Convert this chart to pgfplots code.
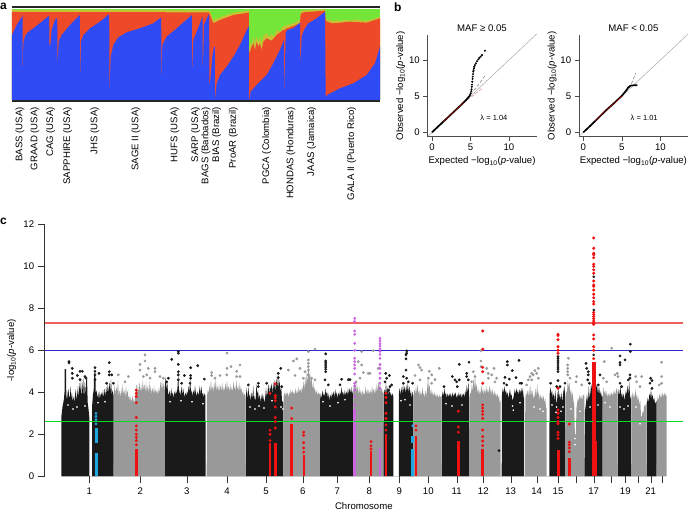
\documentclass[border=0pt]{standalone}
\usepackage{fontspec}
\setmainfont{Liberation Sans}
\usepackage{pgfplots}
\pgfplotsset{compat=1.18}
\definecolor{ablue}{HTML}{2F4BF5}
\definecolor{ared}{HTML}{EE4A2A}
\definecolor{agreen}{HTML}{74E63A}
\definecolor{ayellow}{HTML}{C8C234}
\definecolor{mblack}{HTML}{1A1A1A}
\definecolor{mgray}{HTML}{999999}
\definecolor{mred}{HTML}{EE1111}
\definecolor{mcyan}{HTML}{1FA8E0}
\definecolor{mpurple}{HTML}{CC66E0}
\definecolor{lgreen}{HTML}{00E020}
\definecolor{lred}{HTML}{F06060}
\definecolor{lblue}{HTML}{2828C8}
\pgfplotsset{
  every axis/.append style={
    scale only axis, anchor=south west, clip=false,
    /pgf/number format/assume math mode=true,
    tick label style={font=\fontsize{9.6}{11}\selectfont},
    label style={font=\fontsize{9.6}{11}\selectfont},
    title style={font=\fontsize{9.6}{11}\selectfont},
  },
}
\begin{document}
\begin{tikzpicture}
\path[use as bounding box] (0,0) rectangle (689pt,510pt);
\node[font=\bfseries\fontsize{12}{12}\selectfont,anchor=west,inner sep=0] at (0pt,504pt) {a};
\node[font=\bfseries\fontsize{12}{12}\selectfont,anchor=west,inner sep=0] at (394pt,503pt) {b};
\node[font=\bfseries\fontsize{12}{12}\selectfont,anchor=west,inner sep=0] at (0pt,289pt) {c};

% a: ancestry proportions
\begin{axis}[
  at={(12pt,410pt)}, width=368pt, height=90pt,
  xmin=36, xmax=1140, ymin=0, ymax=270,
  hide y axis, axis x line=bottom, x axis line style={draw=none},
  major tick length=0pt,
  xtick={60,105,152,203,285,408,525,587,618,650,700,800,873,935,1055},
  xticklabels={BASS (USA),GRAAD (USA),CAG (USA),SAPPHIRE (USA),JHS (USA),SAGE II (USA),HUFS (USA),SARP (USA),BAGS (Barbados),BIAS (Brazil),ProAR (Brazil),PGCA (Colombia),HONDAS (Honduras),JAAS (Jamaica),GALA II (Puerto Rico)},
  xticklabel style={rotate=90,anchor=east,inner sep=0pt,xshift=-7pt},
]
\addplot[fill=agreen,draw=none] coordinates {(36,272)(1140,272)} \closedcycle;
\addplot[fill=ayellow,draw=none] coordinates {(36,270)(628,269)(630,266)(640,240)(660,248)(700,262)(745,268)(746.5,268)(747,150)(752,175)(756,160)(760,190)(764,170)(770,190)(775,172)(780,188)(785,170)(790,192)(800,200)(808,188)(815,198)(822,190)(830,210)(840,205)(850,222)(853,222)(880,230)(900,240)(902,268)(975,272)(977,245)(985,238)(992,242)(1000,235)(1010,240)(1020,236)(1035,240)(1050,238)(1070,242)(1085,238)(1100,238)(1120,242)(1140,250)} \closedcycle;
\addplot[fill=ared,draw=none] coordinates {(36,264)(628,263)(629,258)(640,230)(660,240)(700,255)(745,262)(746.5,262)(747,140)(755,160)(760,170)(765,150)(770,175)(775,160)(780,170)(785,150)(790,175)(800,185)(815,178)(830,195)(850,210)(853,210)(860,215)(880,222)(900,230)(902,258)(910,263)(975,268)(977,238)(990,232)(1000,230)(1020,232)(1050,235)(1100,232)(1140,245)} \closedcycle;
\addplot[fill=ablue,draw=none] coordinates {(36,195)(50,225)(66,250)(67.7,255)(68,60)(68.4,60)(70,170)(75,192)(82,202)(100,215)(147.6,253)(148,160)(150,165)(152,170)(155,210)(165,240)(170,245)(171.7,248)(172,100)(172.4,100)(176,175)(185,195)(210,225)(239.6,255)(240,70)(240.4,70)(243,175)(250,195)(270,215)(300,235)(327.7,258)(328,10)(328.4,10)(332,130)(340,165)(355,188)(380,203)(420,215)(460,230)(483.7,248)(484,40)(484.4,40)(487,165)(500,190)(530,215)(575.6,255)(576,90)(576.4,90)(580,180)(590,205)(607.6,250)(608,80)(608.4,80)(612,225)(625,255)(627.6,255)(628,50)(630,50)(637,130)(642,160)(644.6,160)(645,5)(645.5,5)(650,50)(660,75)(680,100)(700,130)(720,165)(745,220)(746.6,220)(747,0)(748,0)(752,25)(770,45)(800,75)(820,110)(840,150)(851.5,180)(852.5,15)(853,15)(857,200)(862,210)(880,215)(900,232)(901,100)(901.5,100)(905,190)(912,210)(925,230)(950,245)(975,265)(977,10)(985,17)(1020,35)(1060,50)(1100,75)(1125,110)(1140,160)} \closedcycle;
\addplot[draw=black!85,line width=1.7pt] coordinates {(36,278)(1140,278)};
\addplot[draw=black!85,line width=1.7pt] coordinates {(36,-2)(1140,-2)};
\end{axis}

% b: QQ plots
\begin{axis}[
  at={(427.3pt,373.3pt)}, width=109.4pt, height=101.7pt,
  xmin=-0.6, xmax=13.6, ymin=-0.6, ymax=13.46,
  axis x line*=bottom, axis y line*=left,
  axis line style={draw=black!70}, tick style={draw=black!70},
  tick align=outside, major tick length=4pt,
  xtick={0,5,10}, ytick={0,5,10},
  title={MAF ≥ 0.05}, title style={at={(axis description cs:0.5,1)},anchor=south,yshift=-6pt},
  xlabel={Expected −log\textsubscript{10}(\textit{p}-value)},
  ylabel={Observed −log\textsubscript{10}(\textit{p}-value)},
  xlabel style={yshift=1pt}, ylabel style={yshift=-3pt},
]
\addplot[draw=black!30,line width=0.6pt] coordinates {(-0.5,-0.5)(13.6,13.6)};
\addplot[draw=black!55,densely dashed,line width=0.5pt] coordinates {(5,5.3)(6,6.5)(7,8.0)};
\addplot[draw=red!60!black!50,densely dashed,line width=0.5pt] coordinates {(4.6,4.5)(5.5,5.2)(6.5,6.1)};
\addplot[draw=black,line width=1.7pt] coordinates {(0,0)(1,1)(2,2)(3,3)(4,4)(4.5,4.55)(4.9,5.05)};
\addplot[draw=red!70!black,line width=0.5pt] coordinates {(1.5,1.5)(2,2)(3,3)(4.2,4.15)};
\addplot[only marks,mark=*,mark size=0.8pt,black] coordinates {(4.94,5.16)(5.03,5.4)(5.1,5.7)(5.15,5.95)(5.18,6.3)(5.2,6.6)(5.24,7.0)(5.27,7.4)(5.3,7.7)(5.33,8.05)(5.37,8.39)(5.4,8.6)(5.44,8.85)(5.5,9.08)(5.58,9.3)(5.71,9.54)(5.85,9.82)(6.02,10.09)(6.15,10.3)(6.32,10.46)(6.5,10.7)(6.88,11.29)};
\node[font=\fontsize{7.5}{9}\selectfont] at (axis cs:8.05,2) {λ = 1.04};
\end{axis}

\begin{axis}[
  at={(578.7pt,373.3pt)}, width=109.4pt, height=101.7pt,
  xmin=-0.6, xmax=13.6, ymin=-0.6, ymax=13.46,
  axis x line*=bottom, axis y line*=left,
  axis line style={draw=black!70}, tick style={draw=black!70},
  tick align=outside, major tick length=4pt,
  xtick={0,5,10}, ytick={0,5,10},
  title={MAF < 0.05}, title style={at={(axis description cs:0.5,1)},anchor=south,yshift=-6pt},
  xlabel={Expected −log\textsubscript{10}(\textit{p}-value)},
  ylabel={Observed −log\textsubscript{10}(\textit{p}-value)},
  xlabel style={yshift=1pt}, ylabel style={yshift=-3pt},
]
\addplot[draw=black!30,line width=0.6pt] coordinates {(-0.5,-0.5)(13.6,13.6)};
\addplot[draw=black!55,densely dashed,line width=0.5pt] coordinates {(5.5,5.6)(6.2,6.6)(6.8,8.2)};
\addplot[draw=black,line width=1.7pt] coordinates {(0,0)(1,1)(2,2.05)(3,3.1)(4,4.05)(5,5.05)(5.5,5.7)(5.8,6.15)(6.1,6.45)(6.5,6.5)(7,6.5)};
\addplot[draw=red!70!black,line width=0.5pt] coordinates {(1.5,1.55)(2,2.05)(3,3.1)(4.2,4.2)(5,5)};
\node[font=\fontsize{7.5}{9}\selectfont] at (axis cs:7.9,2) {λ = 1.01};
\end{axis}

% c: Manhattan plot
\begin{axis}[
  at={(44.7pt,33.7pt)}, width=638.3pt, height=252pt,
  xmin=44.7, xmax=683, ymin=0, ymax=12,
  axis x line*=bottom, axis y line*=left,
  x axis line style={draw=none},
  y axis line style={draw=black!80},
  tick style={draw=black!80},
  tick align=outside, major tick length=7pt,
  ytick={0,2,4,6,8,10,12},
  xtick={89.3,140.3,186.7,227,266,302.7,337.3,369.3,399.3,428.3,456.7,483.3,510.7,536.7,558,576,593.7,611,625.3,637.7,650.7,661.7},
  xticklabels={1,2,3,4,5,6,7,8,9,10,11,12,13,14,15,,17,,19,,21,},
  xlabel={Chromosome},
  ylabel={-log\textsubscript{10}(\textit{p}-value)},
  xticklabel style={yshift=-1pt},
  xlabel style={at={(axis description cs:0.5,0)},anchor=center,yshift=-29.4pt},
  ylabel style={at={(axis description cs:0,0.5)},anchor=center,yshift=33pt},
]
% black chromosomes
\addplot[fill=mblack,draw=none] coordinates {
(61.3,0)(61.5,2.9)(62.5,3.3)(63.3,3.5)(64,3.7)(64.5,4.0)(64.7,5.1)(66,5.1)(66.3,3.9)(67,3.6)(67.7,4.0)(68.5,4.15)(69.2,3.7)(70,3.85)(70.7,4.3)(71.3,3.7)(72,3.95)(72.7,3.55)(73.5,3.8)(74.2,3.5)(75,3.85)(75.8,4.15)(76.5,3.6)(77.2,3.9)(78,4.3)(78.7,3.7)(79.5,4.45)(80.2,4.0)(81,4.6)(81.7,3.7)(82.5,4.35)(83.2,4.7)(84,3.6)(84.7,4.5)(85.4,3.9)(86.2,4.6)(87,4.7)(87.7,3.5)(88.5,3.2)(89.3,2.8)(89.5,0)
(92,0)(92.2,3.4)(93,3.9)(93.7,4.1)(94.2,4.9)(95.4,4.9)(95.8,3.9)(96.7,4.1)(97.5,3.7)(98.3,4.0)(99,3.6)(99.8,4.05)(100.6,3.75)(101.4,4.0)(102.2,3.8)(103,4.1)(103.8,3.7)(104.6,4.2)(105.4,3.8)(106.2,4.25)(107,3.9)(107.8,4.4)(108.6,3.95)(109.4,4.5)(110.2,4.0)(111,4.6)(111.8,3.9)(112.6,4.1)(113.7,3.8)(113.7,0)
(164.8,0)(165,4.3)(165.6,4.75)(166.4,4.1)(167.2,4.55)(168,4.0)(168.8,3.85)(169.6,4.1)(170.4,3.75)(171.2,4.2)(172,3.85)(172.8,4.0)(173.6,3.7)(174.4,4.05)(175.2,3.85)(176,4.1)(176.8,3.9)(177.5,4.25)(178.3,4.95)(179,3.9)(179.8,4.1)(180.6,3.8)(181.4,4.3)(182.2,3.85)(183,4.2)(183.8,4.0)(184.6,3.75)(185.4,4.0)(186.2,3.8)(187,4.05)(187.8,3.9)(188.6,4.3)(189.4,4.0)(190.2,4.75)(191,3.95)(191.8,4.1)(192.6,3.8)(193.4,4.1)(194.2,3.9)(195,4.3)(195.8,4.0)(196.6,3.8)(197.4,4.05)(198.2,3.85)(199,4.0)(199.8,4.3)(200.6,3.9)(201.4,4.3)(202.2,3.85)(203,4.0)(203.8,3.75)(204.6,3.95)(205.4,3.85)(205.7,0)
(245.7,0)(246,3.9)(246.8,4.2)(247.6,3.65)(248.4,4.3)(249.2,3.7)(250,3.95)(250.8,3.55)(251.6,4.0)(252.4,3.7)(253.2,4.3)(254,3.6)(254.8,3.85)(255.6,3.5)(256.4,4.4)(257.2,3.9)(258,4.1)(258.8,3.65)(259.6,3.9)(260.4,3.5)(261.2,3.9)(262,3.6)(262.8,3.95)(263.6,3.7)(264.4,3.5)(265.2,3.75)(266,4.2)(266.8,3.8)(267.6,4.0)(268.4,4.4)(269.2,3.9)(270,4.3)(270.8,4.1)(271.6,4.45)(272.4,3.9)(273.2,4.5)(274,4.1)(274.8,4.6)(275.6,4.0)(276.4,4.7)(277.2,4.2)(278,4.85)(278.8,4.2)(279.6,4.6)(280.4,4.0)(281.2,4.3)(282,3.6)(283.3,3.5)(283.3,0)
(319.8,0)(320,3.6)(320.8,3.95)(321.6,3.7)(322.4,4.1)(323.2,3.8)(324,4.0)(324.8,3.75)(325.6,4.2)(326.4,3.9)(327.2,4.0)(328,3.7)(328.8,3.95)(329.6,3.6)(330.4,3.9)(331.2,3.7)(332,4.0)(332.8,3.8)(333.6,4.05)(334.4,3.75)(335.2,4.15)(336,3.85)(336.8,4.0)(337.6,3.7)(338.4,4.0)(339.2,3.8)(340,4.05)(340.8,3.85)(341.6,4.25)(342.4,3.95)(343.2,4.0)(344,3.8)(344.8,4.1)(345.6,3.85)(346.4,4.05)(347.2,3.85)(348,4.2)(348.8,3.9)(349.6,4.2)(350.4,3.95)(351.2,4.25)(352,3.9)(353.3,4.15)(353.3,0)
(383.3,0)(383.6,3.9)(384.4,4.15)(385.2,3.85)(386,4.5)(386.8,3.9)(387.6,4.25)(388.4,3.85)(389.2,4.35)(390,3.85)(390.8,4.0)(391.6,3.8)(392.4,3.95)(393.3,3.8)(393.3,0)
(398.8,0)(399,4.0)(399.8,4.2)(400.6,3.85)(401.4,4.25)(402.2,3.9)(403,4.4)(403.8,4.0)(404.6,4.3)(405.4,3.95)(406.2,4.35)(407,4.0)(407.8,4.45)(408.6,4.0)(409.4,4.3)(410.2,3.85)(411,4.1)(411.8,3.7)(412.6,4.05)(413.3,3.8)(413.3,0)
(441.7,0)(442,3.8)(442.8,4.05)(443.6,3.8)(444.4,4.2)(445.2,3.85)(446,4.0)(446.8,3.7)(447.6,3.95)(448.4,3.75)(449.2,3.95)(450,3.8)(450.8,3.95)(451.6,3.7)(452.4,4.0)(453.2,3.75)(454,3.95)(454.8,3.85)(455.6,4.0)(456.4,3.7)(457.2,3.9)(458,3.75)(458.8,4.0)(459.6,3.8)(460.4,3.95)(461.2,3.7)(462,3.95)(462.8,3.8)(463.6,3.95)(464.4,3.75)(465.2,4.1)(466,3.85)(466.8,4.35)(467.6,3.95)(468.4,4.5)(469,3.9)(469,0)
(501.7,0)(502,3.9)(502.8,4.2)(503.6,3.95)(504.4,4.3)(505.2,3.95)(506,4.1)(506.8,3.85)(507.6,4.0)(508.4,3.7)(509.2,3.95)(510,4.15)(510.8,3.85)(511.6,3.9)(512.4,3.6)(513.2,3.7)(514,3.9)(514.8,4.15)(515.6,3.9)(516.4,4.2)(517.2,3.95)(518,4.1)(518.8,3.85)(519.6,4.15)(520.4,3.95)(521.2,4.2)(522,3.95)(522.8,4.2)(523.6,3.8)(524,3.7)(524,0)
(549.3,0)(549.6,3.9)(550.4,4.25)(551.2,3.9)(552,4.1)(552.8,3.75)(553.6,3.95)(554.4,3.6)(555.2,4.1)(556,3.7)(556.8,3.4)(557.5,3.9)(558.3,4.2)(559,3.7)(559.8,3.95)(560.6,3.6)(561.4,4.0)(562.2,3.5)(563,3.9)(563.8,4.15)(564.6,4.3)(565,3.7)(565,0)
(584.3,0)(585,3.1)(586,3.5)(587,3.9)(588,3.5)(588.8,4.3)(589.6,3.7)(590.4,4.0)(591.2,4.4)(592,4.1)(593,4.5)(595,4.6)(596,4.2)(597,4.4)(598,3.9)(599,4.3)(600,3.85)(600.8,4.05)(601.7,3.8)(602.5,3.8)(602.5,0)
(617.7,0)(618,3.8)(618.8,4.15)(619.6,3.8)(620.4,4.4)(621.2,3.75)(622,4.0)(622.8,3.7)(623.6,3.95)(624.4,3.6)(625.2,3.85)(626,4.1)(626.8,3.85)(627.6,4.35)(628.4,3.9)(629.2,4.5)(630,3.85)(631.2,3.6)(631.2,0)
(646.7,0)(647,3.5)(647.8,3.75)(648.6,3.5)(649.4,3.95)(650.2,3.75)(651,4.15)(651.8,3.7)(652.6,3.9)(653.4,3.6)(654.2,3.75)(655,3.45)(656.7,3.6)(656.7,0)
} \closedcycle;
% gray chromosomes
\addplot[fill=mgray,draw=none] coordinates {
(113.7,0)(114,4.0)(114.8,4.35)(115.6,3.9)(116.4,4.25)(117.2,4.0)(118,4.55)(118.8,3.8)(119.6,4.1)(120.4,3.75)(121.2,4.2)(122,3.85)(122.8,4.4)(123.6,3.9)(124.4,4.1)(125.2,3.7)(126,4.3)(126.8,3.85)(127.6,4.1)(128.4,3.7)(129.2,3.85)(130,3.55)(130.8,3.8)(131.6,3.5)(132.4,3.85)(133.2,3.5)(134,3.75)(134.8,3.4)(135.6,4.1)(136.4,4.4)(137.2,3.9)(138,4.4)(138.8,3.95)(139.6,4.5)(140.4,4.0)(141.2,4.35)(142,3.95)(142.8,4.6)(143.6,4.1)(144.4,4.4)(145.2,3.95)(146,4.5)(146.8,4.0)(147.6,4.3)(148.4,3.95)(149.2,4.55)(150,4.0)(150.8,4.3)(151.6,3.9)(152.4,4.2)(153.2,3.95)(154,4.3)(154.8,3.9)(155.6,4.15)(156.4,3.95)(157.2,4.1)(158,3.85)(158.8,4.2)(159.6,3.95)(160.4,4.55)(161.2,4.1)(162,4.6)(162.8,4.1)(163.6,4.45)(164.8,4.1)(164.8,0)
(206.7,0)(207,3.8)(207.8,4.1)(208.6,3.95)(209.4,4.35)(210.2,4.0)(211,4.6)(211.8,4.05)(212.6,4.3)(213.4,4.0)(214.2,4.5)(215,4.1)(215.8,4.65)(216.6,4.05)(217.4,4.3)(218.2,4.0)(219,4.4)(219.8,4.0)(220.6,4.35)(221.4,4.05)(222.2,4.45)(223,4.0)(223.8,4.25)(224.6,4.05)(225.4,4.45)(226.2,4.1)(227,4.55)(227.8,4.1)(228.6,4.3)(229.4,4.0)(230.2,4.4)(231,4.05)(231.8,4.25)(232.6,4.0)(233.4,4.55)(234.2,4.1)(235,4.35)(235.8,4.0)(236.6,4.6)(237.4,4.1)(238.2,4.3)(239,4.0)(239.8,4.45)(240.6,4.1)(241.4,4.2)(242.2,3.9)(243,4.1)(243.8,3.8)(244.6,3.95)(245.7,3.7)(245.7,0)
(283.3,0)(283.6,3.75)(284.4,4.0)(285.2,3.8)(286,4.05)(286.8,3.85)(287.6,4.0)(288.4,3.75)(289.2,4.0)(290,3.85)(290.8,4.15)(291.6,3.9)(292.4,4.1)(293.2,3.9)(294,4.05)(294.8,3.85)(295.6,4.2)(296.4,3.9)(297.2,4.1)(298,3.9)(298.8,4.3)(299.6,4.0)(300.4,4.15)(301.2,3.95)(302,4.3)(302.8,4.05)(303.6,4.55)(304.4,4.1)(305.2,4.75)(306,4.2)(306.8,5.0)(307.6,4.4)(308.4,5.45)(309.2,4.6)(310,5.0)(310.8,4.4)(311.6,4.75)(312.4,4.1)(313.2,4.5)(314,4.05)(314.8,4.25)(315.6,3.95)(316.4,4.1)(317.2,3.85)(318,4.0)(319.8,3.9)(319.8,0)
(353.3,0)(353.6,4.2)(354.4,4.5)(355.2,4.1)(356,4.6)(356.8,4.0)(357.6,4.3)(358.4,3.85)(359.2,4.25)(360,3.9)(360.8,4.1)(361.6,3.8)(362.4,4.1)(363.2,3.85)(364,4.05)(364.8,3.8)(365.6,4.3)(366.4,3.9)(367.2,4.15)(368,3.85)(368.8,4.15)(369.6,3.9)(370.4,4.1)(371.2,3.85)(372,4.3)(372.8,3.95)(373.6,4.2)(374.4,3.9)(375.2,4.2)(376,3.9)(376.8,4.4)(377.6,4.0)(378.4,4.55)(379.2,4.1)(380,4.65)(380.8,4.0)(381.6,4.2)(383.3,3.9)(383.3,0)
(413.3,0)(413.6,3.85)(414.4,4.15)(415.2,3.9)(416,4.3)(416.8,3.95)(417.6,4.4)(418.4,3.9)(419.2,4.1)(420,3.8)(420.8,4.05)(421.6,3.8)(422.4,4.25)(423.2,3.85)(424,4.0)(424.8,3.7)(425.6,4.1)(426.4,3.8)(427.2,4.2)(428,4.75)(428.8,4.1)(429.6,4.4)(430.4,3.85)(431.2,4.15)(432,3.8)(432.8,4.05)(433.6,3.8)(434.4,4.0)(435.2,3.75)(436,3.95)(436.8,3.75)(437.6,3.9)(438.4,3.7)(439.2,3.9)(440,3.75)(441.7,3.85)(441.7,0)
(469,0)(469.4,3.7)(470.2,4.0)(471,3.9)(471.8,4.4)(472.6,4.0)(473.4,4.7)(474.2,4.1)(475,4.85)(475.8,4.2)(476.6,4.4)(477.4,3.95)(478.2,4.2)(479,3.85)(479.8,4.1)(480.6,3.9)(481.4,4.35)(482.2,3.95)(483,4.2)(483.8,3.85)(484.6,4.15)(485.4,3.9)(486.2,4.3)(487,3.95)(487.8,4.15)(488.6,3.9)(489.4,4.35)(490.2,3.95)(491,4.2)(491.8,3.85)(492.6,4.15)(493.4,3.8)(494.2,4.1)(495,3.8)(495.8,4.0)(496.6,3.75)(497.4,3.95)(498.2,3.7)(499,3.85)(499.8,3.5)(500.7,3.6)(500.7,0)
(525,0)(525.3,3.7)(526,4.0)(526.8,3.8)(527.6,4.1)(528.4,3.8)(529.2,4.25)(530,3.7)(530.8,4.35)(531.6,3.85)(532.4,4.1)(533.2,3.6)(534,3.95)(534.8,3.7)(535.6,4.2)(536.4,3.8)(537.2,4.4)(538,3.8)(538.8,4.05)(539.6,3.6)(540.4,3.9)(541.2,3.65)(542,3.85)(542.8,3.6)(543.6,3.85)(544.4,3.5)(545.2,3.7)(546,3.3)(546.7,3.2)(546.7,0)
(565,0)(565.4,3.8)(566.2,4.05)(567,3.95)(567.8,4.6)(568.6,4.2)(569.4,4.5)(570.2,3.9)(571,4.15)(571.8,3.75)(572.6,4.0)(573.4,3.6)(574.2,3.4)(574.7,2.3)(575.2,2.0)(576,2.0)(576.4,3.2)(577.2,3.5)(578,3.75)(578.8,3.55)(579.6,3.9)(580.4,3.65)(581.2,3.85)(582,3.6)(583,3.9)(584.3,3.8)(584.3,0)
(602.5,0)(602.8,3.85)(603.6,4.25)(604.4,3.9)(605.2,4.1)(606,3.8)(606.8,4.05)(607.6,3.75)(608.4,3.95)(609.2,3.75)(610,4.0)(610.8,3.8)(611.6,4.0)(612.4,3.8)(613.2,4.05)(614,3.85)(614.8,4.1)(615.6,3.85)(616.4,4.2)(617.7,4.0)(617.7,0)
(631.2,0)(631.5,3.8)(632.3,4.0)(633.1,3.7)(633.9,3.95)(634.7,3.7)(635.5,4.15)(636.3,3.75)(637.1,3.9)(637.9,3.55)(638.7,3.75)(639.5,3.4)(640.3,3.6)(641,2.9)(641.8,2.8)(642.6,3.1)(643.4,3.0)(644.2,3.4)(645,3.3)(646.7,3.55)(646.7,0)
(656.7,0)(657,3.55)(657.8,3.8)(658.6,3.6)(659.4,3.95)(660.2,3.7)(661,3.95)(661.8,3.7)(662.6,4.0)(663.4,3.75)(664.2,4.0)(665,3.8)(665.8,3.95)(666.7,3.75)(666.7,0)
} \closedcycle;
% white flecks in the dense part
\addplot[only marks,mark=*,mark size=0.6pt,white,mark options={draw=none}] coordinates {
(68,3.4)(73,3.2)(77,3.3)(85,3.35)(98,3.5)(105,3.55)
(170,3.55)(181,3.6)(192,3.55)(203,3.45)
(250,3.3)(255,3.2)(259,3.35)(264,3.25)(272,3.6)(281,3.3)(283,3.2)
(323,3.55)(330,3.35)(338,3.5)(345,3.65)
(401,3.6)(405,3.65)(410,3.4)(446,3.45)(452,3.35)(462,3.4)
(512.5,3.35)(513.3,3.15)(520,3.5)(552,3.4)(556,3.05)(556.5,3.3)(561,3.1)(563,3.3)
(534,3.3)(540,3.2)(543,3.1)(575,1.8)(575,1.5)(580,3.1)(571,3.2)
(590,3.3)(598,3.4)(605,3.5)(610,3.3)(620,3.3)(624,3.2)(628,3.35)(640,2.5)(636,3.3)
};
% gray points
\addplot[only marks,mark=*,mark size=1.2pt,mgray] coordinates {
(145,5.78)(140,5.33)(140,5.06)(145,5.49)(155,5.14)(155,4.98)(148.3,5.14)(128.3,4.75)(118.3,4.83)(125,4.5)(160,4.75)(146.7,4.83)(163.3,4.67)(143.3,4.75)(150,4.67)
(227,5.86)(231,5.22)(227,5.14)(240,5.3)(236.7,5.0)(211.7,4.94)(211.7,4.8)(220,4.8)(226.7,4.83)(236.7,4.75)(240,4.75)(215,4.67)
(315,6.06)(308.3,5.94)(308.3,5.54)(308.3,5.38)(308.3,5.22)(308.3,5.06)(293.3,5.49)(296.7,5.59)(300,5.14)(288.3,5.06)(295,4.8)(308.3,4.83)(311.7,4.67)(305,4.98)(303.3,4.67)(315,4.59)
(361.7,5.94)(373.3,5.98)(358.3,5.46)(361.7,5.3)(363.3,4.94)(368.3,4.9)(370,4.9)(360,4.67)(380,4.67)(378.3,5.14)(380,5.3)(356,4.5)
(420,5.17)(418.5,5.3)(421.7,5.06)(439.3,5.14)(429.3,5.0)(431.7,4.83)(415,4.8)(428.3,4.67)(435,4.6)(431.7,4.43)(420,4.59)
(481,5.98)(481,5.49)(481,5.22)(486.7,5.14)(494,5.14)(488.3,4.9)(491.7,4.83)(473.3,4.98)(475,4.75)(488.3,4.67)(496.7,4.67)(471.7,4.5)(495,4.5)
(538.3,5.14)(535,5.03)(531.7,4.9)(530,4.75)(528.3,4.59)(533.3,4.83)(536.7,4.9)(531.7,4.59)(526.7,4.35)(538.3,4.67)
(568.3,5.62)(567.7,5.3)(567.7,5.14)(567.7,4.98)(567.7,4.83)(576.7,4.75)(576,4.5)(581.7,4.35)(570,4.67)
(604.3,5.46)(611.7,6.1)(603.3,4.67)(606.7,4.5)(615,4.83)(617.3,4.9)(618,4.75)
(635.7,4.75)(641.7,4.75)(636.7,4.5)(640,4.27)
(661.7,5.43)(661.7,4.75)(661.7,4.43)(659.3,4.35)
};
% black points
\addplot[only marks,mark=*,mark size=1.2pt,mblack] coordinates {
(69,5.46)(69,5.4)(72.3,5.14)(72.3,4.9)(72.3,4.67)(77.3,4.8)(80,5.0)(82.3,5.0)(80,4.6)(85,4.75)(86,4.67)
(95,5.17)(95,5.0)(95,4.83)(99,4.9)(95,4.6)(109.3,5.41)(109.3,4.98)(109.3,4.83)(111.7,4.83)(106.7,4.43)(113.3,4.43)
(178.3,5.94)(178.3,5.86)(171.7,5.57)(178.3,5.33)(178.3,4.98)(178.3,4.83)(178.3,4.59)(190.7,5.17)(197.7,5.27)(184.3,4.8)(190.7,4.8)(190.7,4.67)(204.3,4.63)(168.3,4.67)(166.7,4.5)(181.7,4.43)(190,4.43)
(280.7,5.14)(278.3,4.9)(278.3,4.7)(266.7,4.43)(258.3,4.43)(248.3,4.35)(258.3,4.27)(281.7,4.27)
(325.7,5.83)(325.7,5.49)(325.7,5.4)(325.7,5.3)(325.7,5.2)(325.7,5.1)(325.7,4.98)(325,4.59)(341.7,4.62)(348.3,4.6)(350,4.6)(328.3,4.35)(340,4.35)
(385.7,4.9)(389.3,4.8)(386.7,4.67)(385,4.5)(391.7,4.35)(390,4.27)(388.3,4.1)
(406.7,5.97)(406.7,5.86)(406,5.78)(406,5.59)(406,5.06)(403.3,4.75)(406.7,4.67)(408.3,4.5)(412.7,4.43)(403.3,4.43)
(459.3,5.33)(469,5.43)(452.3,4.75)(455,4.59)(459.3,4.59)(456.7,4.5)(466.7,4.9)(466.7,4.75)(468.3,4.59)(457.3,4.27)(444,4.27)
(507.3,5.46)(507.3,5.3)(519,5.52)(512.3,5.03)(505,4.71)(516,4.7)(509.3,4.63)(504,4.43)(521.7,4.43)(520,4.43)(506.7,4.35)(499,1.22)
(550.7,4.43)(565,4.43)(560,4.27)(556.7,4.27)
(558,5.7)(558,5.6)(558,5.5)(558,5.4)(558,5.3)(558,5.2)(558,5.1)(558,4.98)(558,4.56)
(586,5.38)(586.7,5.14)(588.3,4.98)(588.3,4.83)(587.7,4.59)(589.3,4.43)(600,4.83)(598.3,4.35)
(620,5.73)(625,5.54)(620,5.41)(620,5.3)(630.3,6.29)(630.3,5.94)(630,4.83)(630,4.67)(628.3,4.59)(620,4.43)(621.7,4.27)
(650.7,4.67)(652,4.56)(652,4.19)(650,4.43)
};
% purple
\addplot[only marks,mark=*,mark size=1.2pt,mpurple] coordinates {
(354.7,7.52)(354.7,7.37)(354.7,6.92)(354.7,6.76)(354.7,6.33)(354.7,6.0)(354.7,5.62)(354.7,5.46)(354.7,5.3)(354.7,5.14)(354.7,4.87)(354.7,4.43)(354.7,4.3)(354.7,4.1)(354.7,3.8)(354.7,3.4)
(380,6.57)(380,6.45)(380,6.32)(380,6.2)(380,6.07)(380,5.95)(380,5.8)(380,5.62)(380,5.33)(380,5.14)(380,4.9)(380,4.67)(380,4.43)(380,4.19)(380,2.2)
};
\addplot[draw=mpurple,line width=2.6pt] coordinates {(354.7,0)(354.7,3.2)};
\addplot[draw=mpurple,line width=2.6pt] coordinates {(380,0)(380,1.33)};
% cyan
\addplot[draw=mcyan,line width=3pt] coordinates {(96,0)(96,1.1)};
\addplot[draw=mcyan,line width=3pt] coordinates {(96,1.6)(96,2.3)};
\addplot[only marks,mark=*,mark size=1.2pt,mcyan] coordinates {(96,2.5)(96,2.7)(96,2.85)(96,3.0)};
\addplot[draw=mcyan,line width=3pt] coordinates {(412.7,0)(412.7,1.3)};
\addplot[draw=mcyan,line width=3pt] coordinates {(412.7,1.6)(412.7,1.9)};
\addplot[only marks,mark=*,mark size=1.2pt,mcyan] coordinates {(412.7,2.4)};
% red columns
\addplot[draw=mred,line width=2.4pt] coordinates {(136.3,0)(136.3,1.3)};
\addplot[draw=mred,line width=2.8pt] coordinates {(270,0)(270,1.6)};
\addplot[draw=mred,line width=3.4pt] coordinates {(275.3,0)(275.3,1.6)};
\addplot[draw=mred,line width=3pt] coordinates {(291.7,0)(291.7,2.5)};
\addplot[draw=mred,line width=2.4pt] coordinates {(303.7,0)(303.7,1)};
\addplot[draw=mred,line width=2.6pt] coordinates {(371,0)(371,1.2)};
\addplot[draw=mred,line width=2.6pt] coordinates {(386,0)(386,2.0)};
\addplot[draw=mred,line width=2.6pt] coordinates {(416,0)(416,1.9)};
\addplot[draw=mred,line width=2.6pt] coordinates {(458.3,0)(458.3,1.7)};
\addplot[draw=mred,line width=2.6pt] coordinates {(482.7,0)(482.7,1.3)};
\addplot[draw=mred,line width=2.8pt] coordinates {(558.3,0)(558.3,1.25)};
\addplot[draw=mred,line width=2.8pt] coordinates {(569.3,0)(569.3,0.86)};
\addplot[only marks,mark=*,mark size=1.3pt,mred] coordinates {
(136.3,1.5)(136.3,1.7)(136.3,1.85)(136.3,2.0)(136.3,2.2)(136.3,2.4)(136.3,2.8)(136.3,3.5)(136.3,3.8)(136.3,3.95)(136.3,4.1)
(270,1.7)(270,2.0)(270,2.2)(270,3.95)(275.3,2.3)(275.3,2.6)(275.3,2.8)(275.3,3.3)(275.3,3.6)(275.3,3.75)(275.3,3.85)(275.3,4.4)
(291.7,2.75)(291.7,3.25)(303.7,1.15)(303.7,1.35)(303.7,1.6)(303.7,1.95)(303.7,2.1)
(371,1.3)(371,1.45)(371,1.65)
(386,2.2)(386,2.45)(386,2.75)(386,3.0)(386,3.5)(386,3.75)(386,3.95)
(416,2.2)(416,2.4)(458.3,2.1)(458.3,2.35)(458.3,3.1)
(482.7,6.92)(482.7,6.05)(482.7,5.19)(482.7,4.98)(482.7,4.43)(482.7,3.4)(482.7,3.25)(482.7,3.1)(482.7,2.95)(482.7,2.76)(482.7,2.2)(482.7,1.89)(482.7,1.68)(482.7,1.46)
(558,6.76)(558,6.7)(558,6.5)(558,6.17)(558,6.0)(558,5.86)(558,4.19)(558,3.16)(558,3.0)(558,2.8)(558,2.6)(558,2.5)(558,2.1)(558,1.97)(558,1.8)
(569.3,2.49)(569.3,1.62)(569.3,1.5)(569.3,1.35)(569.3,1.17)
};
% significance thresholds
\addplot[draw=lblue,line width=1.1pt] coordinates {(44.7,6)(683,6)};
\addplot[draw=lred,line width=1.1pt] coordinates {(44.7,7.3)(683,7.3)};
% chromosome 17 signal
\addplot[draw=mred,line width=3.6pt] coordinates {(593.7,0)(593.7,5.46)};
\addplot[draw=mred,line width=4.6pt] coordinates {(594.7,0)(594.7,1.7)};
\addplot[only marks,mark=*,mark size=1.3pt,mred] coordinates {
(593.7,11.35)(593.7,10.86)(593.7,10.62)(593.7,10.55)(593.7,10.41)(593.7,10.1)(593.7,10.0)(593.7,9.83)(593.7,9.67)(593.7,9.3)(593.7,9.11)(593.7,9.05)(593.7,8.87)(593.7,8.67)(593.7,8.5)(593.7,8.32)(593.7,8.2)(593.7,7.8)(593.7,7.7)(593.7,7.6)(593.7,7.5)(593.7,7.4)(593.7,7.3)(593.7,7.24)(593.7,6.73)(593.7,6.54)(593.7,6.17)(593.7,6.0)(593.7,5.6)
};
\addplot[only marks,mark=*,mark size=1.1pt,mblack] coordinates {(593.7,9.5)(593.7,7.92)(593.7,5.78)};
\addplot[draw=lgreen,line width=1.6pt] coordinates {(44.7,2.6)(593,2.6)};
\addplot[draw=lgreen,line width=1.6pt] coordinates {(596,2.6)(683,2.6)};
\end{axis}
\end{tikzpicture}
\end{document}
